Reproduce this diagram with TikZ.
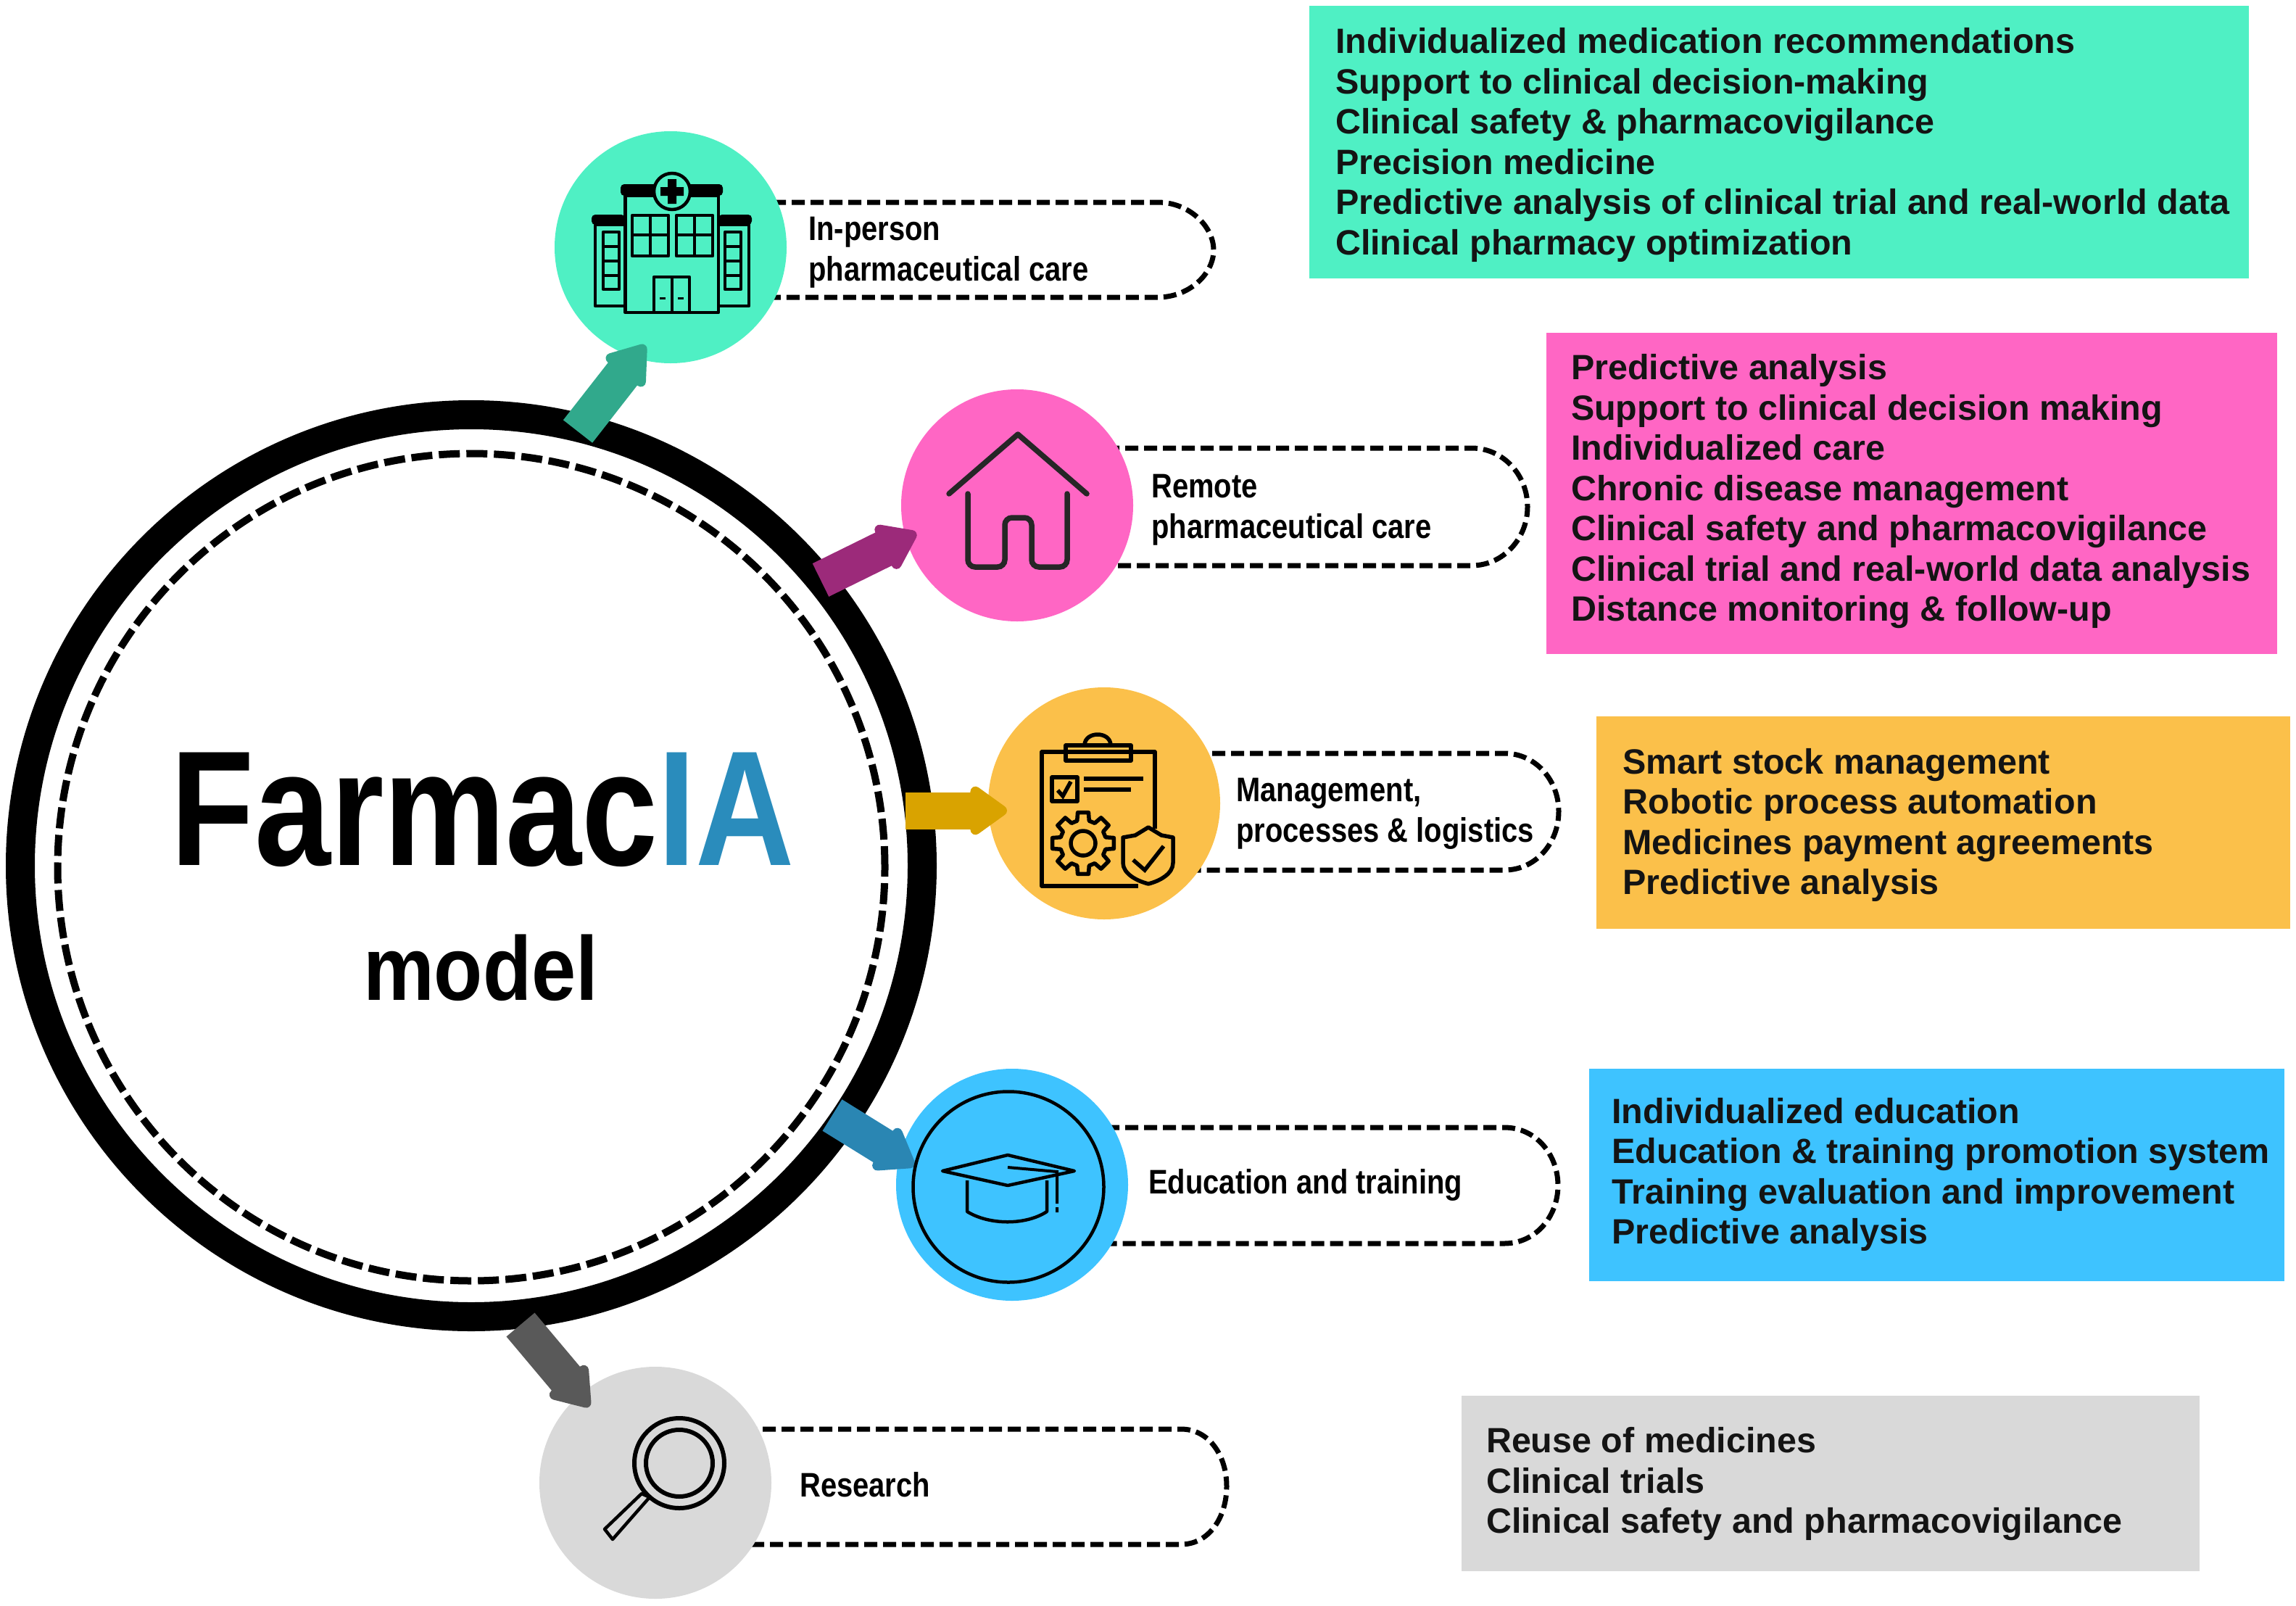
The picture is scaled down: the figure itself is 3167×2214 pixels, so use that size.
\documentclass[tikz,border=0pt]{standalone}
\usepackage{fontspec}
\setmainfont{Liberation Sans}
\newfontfamily\narrowf[FakeStretch=0.85]{Liberation Sans}
\newfontfamily\titlef[FakeStretch=0.835]{Liberation Sans}
\newfontfamily\modelf[FakeStretch=0.88]{Liberation Sans}
\usetikzlibrary{arrows.meta}
\definecolor{cteal}{HTML}{4FF0C4}
\definecolor{cpink}{HTML}{FF66C4}
\definecolor{corange}{HTML}{FBC04A}
\definecolor{cblue}{HTML}{3EC3FF}
\definecolor{cgray}{HTML}{D9D9D9}
\definecolor{ateal}{HTML}{31A98C}
\definecolor{apurple}{HTML}{9C2A7A}
\definecolor{agold}{HTML}{D9A300}
\definecolor{ablue}{HTML}{2A86B3}
\definecolor{agray}{HTML}{595959}
\definecolor{ctitle}{HTML}{2A8CBC}
\tikzset{
  disc/.style={circle,minimum size=320pt,inner sep=0pt,outer sep=0pt},
  pill/.style={draw=black,line width=7pt,dash pattern=on 18pt off 8pt},
  pilltext/.style={anchor=west,align=left,inner sep=0pt,font=\narrowf\bfseries\fontsize{47}{56}\selectfont},
  infobox/.style={inner sep=0pt,outer sep=0pt,anchor=center},
  infotext/.style={inner sep=0pt,outer sep=0pt,align=left,anchor=west,font=\bfseries\fontsize{48.45}{55.5}\selectfont,text=black!92},
  blockarrow/.style={line width=51pt,line join=round,-{Triangle[length=56pt,width=76pt,round]}},
  icon/.style={draw=black,line width=4.5pt,line join=round},
}
\begin{document}
\begin{tikzpicture}[x=1pt,y=-1pt]
\path[use as bounding box] (0,0) rectangle (3167,2214);

% dashed label outlines
\draw[pill] (1040,279) -- (1597,279) .. controls (1640,279) and (1674,312) .. (1674,345) .. controls (1674,378) and (1640,410) .. (1597,410) -- (1040,410);
\draw[pill] (1500,618) -- (2030,618) .. controls (2073,618) and (2107,655) .. (2107,699) .. controls (2107,743) and (2073,780) .. (2030,780) -- (1500,780);
\draw[pill] (1620,1039) -- (2075,1039) .. controls (2118,1039) and (2150,1076) .. (2150,1119) .. controls (2150,1163) and (2118,1200) .. (2075,1200) -- (1620,1200);
\draw[pill] (1500,1555) -- (2075,1555) .. controls (2118,1555) and (2149,1592) .. (2149,1635) .. controls (2149,1678) and (2118,1715) .. (2075,1715) -- (1500,1715);
\draw[pill] (1000,1971) -- (1629,1971) .. controls (1668,1971) and (1692,2008) .. (1692,2050) .. controls (1692,2092) and (1668,2130) .. (1629,2130) -- (1000,2130);

% central circle
\node[circle,draw=black,line width=40pt,minimum size=1244pt,inner sep=0pt] (main) at (650,1194) {};
\node[circle,draw=black,line width=10pt,dash pattern=on 29pt off 9pt,minimum size=1141pt,inner sep=0pt] (maindash) at (650,1196) {};
\node[inner sep=0pt,font=\titlef\bfseries\fontsize{226}{226}\selectfont] (title) at (666,1117) {Farmac\textcolor{ctitle}{IA}};
\node[inner sep=0pt,font=\modelf\bfseries\fontsize{125}{125}\selectfont] (modelword) at (663,1335) {model};

% discs
\node[disc,fill=cteal] (care) at (925,341) {};
\node[disc,fill=cpink] (remote) at (1403,697) {};
\node[disc,fill=corange] (mgmt) at (1523,1108) {};
\node[disc,fill=cblue] (edu) at (1396,1634) {};
\node[disc,fill=cgray] (research) at (904,2045) {};

% arrows
\coordinate (t1) at (797,595); \coordinate (h1) at (890,476);
\coordinate (t2) at (1132,800); \coordinate (h2) at (1264,735);
\coordinate (t3) at (1249,1118); \coordinate (h3) at (1389,1118);
\coordinate (t4) at (1148,1538); \coordinate (h4) at (1261,1608);
\coordinate (t5) at (718,1827); \coordinate (h5) at (813,1940);
\draw[blockarrow,ateal] (t1) -- (h1);
\draw[blockarrow,apurple] (t2) -- (h2);
\draw[blockarrow,agold] (t3) -- (h3);
\draw[blockarrow,ablue] (t4) -- (h4);
\draw[blockarrow,agray] (t5) -- (h5);

% hospital icon
\draw[icon] (862.5,270) rectangle (991,431);
\draw[icon] (862.5,310) -- (821,310) -- (821,422) -- (862.5,422);
\draw[icon] (991,310) -- (1033,310) -- (1033,422) -- (991,422);
\fill[black,rounded corners=5pt] (856,254) rectangle (997,270);
\fill[black,rounded corners=5pt] (816,296) rectangle (862,310);
\fill[black,rounded corners=5pt] (991,296) rectangle (1037,310);
\node[circle,draw=black,fill=cteal,line width=4.5pt,minimum size=50pt,inner sep=0pt] (crossdisc) at (927,264) {};
\fill[black] (921,247) rectangle (933,281) (911,258) rectangle (943,270);
\draw[icon] (872,297) rectangle (922,353) (897,297) -- (897,353) (872,324) -- (922,324);
\draw[icon] (933,297) rectangle (983,353) (958,297) -- (958,353) (933,324) -- (983,324);
\draw[icon] (832,320) rectangle (854,399) (832,340) -- (854,340) (832,360) -- (854,360) (832,380) -- (854,380);
\draw[icon] (1000,320) rectangle (1022,399) (1000,340) -- (1022,340) (1000,360) -- (1022,360) (1000,380) -- (1022,380);
\draw[icon] (902,431) -- (902,382) -- (951,382) -- (951,431) (927,382) -- (927,431);
\draw[black,line width=3pt] (910,411) -- (918,411) (935,411) -- (943,411);

% house icon
\draw[draw=black!85,line width=7.5pt,line cap=round,line join=round] (1309,681) -- (1404,599) -- (1499,681);
\draw[draw=black!85,line width=7.5pt,line cap=round,rounded corners=10pt] (1335,681) -- (1335,782) -- (1386,782) -- (1386,714) -- (1423,714) -- (1423,782) -- (1472,782) -- (1472,681);

% clipboard icon
\draw[icon,line width=5.5pt] (1593,1143) -- (1593,1037) -- (1437,1037) -- (1437,1222) -- (1570,1222);
\draw[icon,line width=5.5pt] (1470,1028) rectangle (1560,1049);
\draw[icon,line width=5.5pt] (1496,1028) .. controls (1496,1008) and (1532,1008) .. (1532,1028);
\draw[icon,line width=5.5pt] (1451,1072) rectangle (1486,1105);
\draw[black,line width=5.5pt] (1459,1090) -- (1466,1098) -- (1477,1078);
\draw[black,line width=5.5pt] (1495,1074) -- (1577,1074) (1495,1089) -- (1560,1089);
\draw[icon,line width=5.5pt] ([shift={(1494,1163)}]-15:32) \foreach \a in {0,45,...,315} { -- ([shift={(1494,1163)}]\a-15:32) -- ([shift={(1494,1163)}]\a-10:43) -- ([shift={(1494,1163)}]\a+10:43) -- ([shift={(1494,1163)}]\a+15:32)} -- cycle;
\node[circle,draw=black,line width=5.5pt,minimum size=34pt,inner sep=0pt] (gearhole) at (1494,1163) {};
\draw[icon,line width=5.5pt,fill=corange] (1584,1141) -- (1602,1152) -- (1618,1155) -- (1618,1190) .. controls (1618,1205) and (1600,1215) .. (1584,1219) .. controls (1568,1215) and (1549,1205) .. (1549,1190) -- (1549,1155) -- (1566,1152) -- cycle;
\draw[black,line width=5.5pt] (1563,1186) -- (1579,1200) -- (1605,1167);

% graduation cap icon
\node[circle,draw=black,line width=4.5pt,minimum size=263pt,inner sep=0pt] (eduring) at (1391,1637) {};
\draw[icon] (1300,1615) -- (1390,1593) -- (1482,1615) -- (1390,1635) -- cycle;
\draw[icon] (1334,1628) -- (1334,1671) .. controls (1365,1690) and (1415,1690) .. (1444,1671) -- (1444,1628);
\draw[black,line width=4pt] (1390,1610) -- (1458,1616) -- (1458,1660) (1458,1665) -- (1458,1672);

% magnifier icon
\node[circle,draw=black,line width=6pt,minimum size=124pt,inner sep=0pt] (lensouter) at (937,2018) {};
\node[circle,draw=black,line width=6pt,minimum size=92pt,inner sep=0pt] (lensinner) at (937,2018) {};
\draw[icon] (896,2065) -- (885,2060) -- (834,2109) -- (845,2123) -- cycle;

% labels
\node[pilltext] (l1) at (1115,348) {In-person\\pharmaceutical care};
\node[pilltext] (l2) at (1588,703) {Remote\\pharmaceutical care};
\node[pilltext] (l3) at (1705,1122) {Management,\\processes \& logistics};
\node[pilltext] (l4) at (1584,1634) {Education and training};
\node[pilltext] (l5) at (1103,2048) {Research};

% right boxes
\node[infobox,fill=cteal,minimum width=1296pt,minimum height=376pt] (b1) at (2454,196) {};
\node[infotext] (x1) at ([xshift=36pt,yshift=-4pt]b1.west) {Individualized medication recommendations\\Support to clinical decision-making\\Clinical safety \& pharmacovigilance\\Precision medicine\\Predictive analysis of clinical trial and real-world data\\Clinical pharmacy optimization};
\node[infobox,fill=cpink,minimum width=1008pt,minimum height=443pt] (b2) at (2637,680) {};
\node[infotext] (x2) at ([xshift=34pt,yshift=2pt]b2.west) {Predictive analysis\\Support to clinical decision making\\Individualized care\\Chronic disease management\\Clinical safety and pharmacovigilance\\Clinical trial and real-world data analysis\\Distance monitoring \& follow-up};
\node[infobox,fill=corange,minimum width=957pt,minimum height=293pt] (b3) at (2680,1134) {};
\node[infotext] (x3) at ([xshift=37pt,yshift=-4pt]b3.west) {Smart stock management\\Robotic process automation\\Medicines payment agreements\\Predictive analysis};
\node[infobox,fill=cblue,minimum width=959pt,minimum height=293pt] (b4) at (2671,1620) {};
\node[infotext] (x4) at ([xshift=32pt]b4.west) {Individualized education\\Education \& training promotion system\\Training evaluation and improvement\\Predictive analysis};
\node[infobox,fill=cgray,minimum width=1018pt,minimum height=242pt] (b5) at (2525,2046) {};
\node[infotext] (x5) at ([xshift=34pt,yshift=-1pt]b5.west) {Reuse of medicines\\Clinical trials\\Clinical safety and pharmacovigilance};
\end{tikzpicture}
\end{document}
